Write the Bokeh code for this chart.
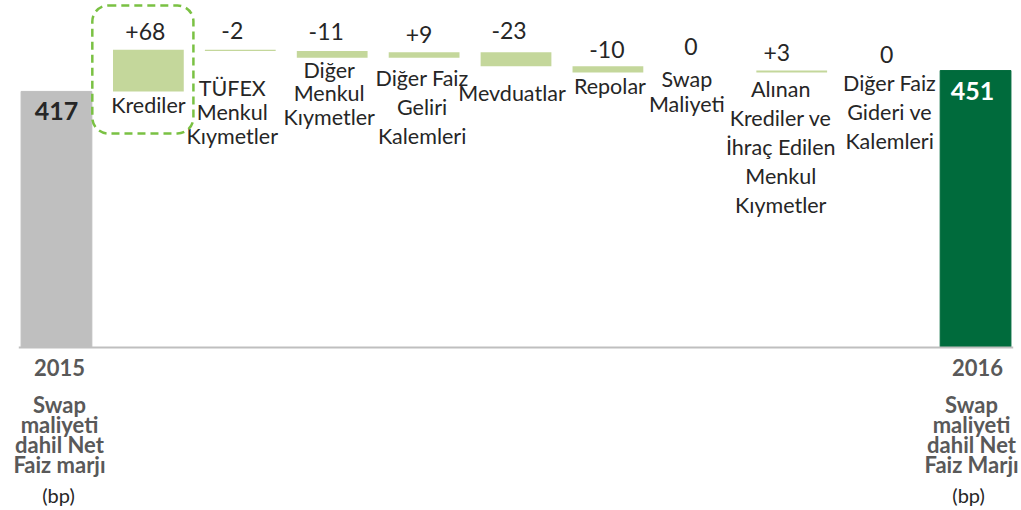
from bokeh.plotting import figure
from bokeh.models import ColumnDataSource, Range1d, BoxAnnotation
from bokeh.core.properties import value
from bokeh.embed import file_html
from bokeh.resources import INLINE

# ---------------- data ----------------
start_label = "2015"
end_label = "2016"
start_value = 417
end_value = 451
step_labels = [
    "Krediler",
    "TÜFEX\nMenkul\nKıymetler",
    "Diğer\nMenkul\nKıymetler",
    "Diğer Faiz\nGeliri\nKalemleri",
    "Mevduatlar",
    "Repolar",
    "Swap\nMaliyeti",
    "Alınan\nKrediler ve\nİhraç Edilen\nMenkul\nKıymetler",
    "Diğer Faiz\nGideri ve\nKalemleri",
]
step_changes = [68, -2, -11, 9, -23, -10, 0, 3, 0]
total_captions = ["Swap\nmaliyeti\ndahil Net\nFaiz marjı",
                  "Swap\nmaliyeti\ndahil Net\nFaiz Marjı"]
unit_label = "(bp)"

# ---------------- layout / style ----------------
FONT = value("Lato")
GRAY = "#BFBFBF"
LIGHT_GREEN = "#C4D79B"
DARK_GREEN = "#006B3C"
TEXT = "#262626"
CAPTION = "#595959"

# per-label nudges (pixels)
value_dx = [-3, -8, -6, -5, -7, -1, -9, -15, 3]
value_rise = [18, 19, 19, 18, 22, 16.5, 25.5, 18.5, 16]   # label centre above bar top
label_dx = [0, -8, -3, -2, -4, 2, -13, -11, 6]
label_first = [14, 37, 12, 20, 27, 14, 7, 17, 12]   # first line centre below bar bottom
label_spacing = [24, 24, 23.5, 29, 24, 24, 25, 28.8, 29]

n_steps = len(step_changes)
n_cols = n_steps + 2

levels = [start_value]
for c in step_changes:
    levels.append(levels[-1] + c)

p = figure(width=1021, height=510, output_backend="svg", toolbar_location=None,
           x_range=Range1d(-0.609, 10.5), y_range=Range1d(-265.5, 565.1),
           x_axis_type=None, y_axis_type=None,
           min_border_left=0, min_border_right=0, min_border_top=0, min_border_bottom=0)
p.outline_line_color = None
p.grid.visible = False
p.background_fill_color = "white"
p.border_fill_color = "white"

# total bars
tot_src = ColumnDataSource(dict(x=[0, n_cols - 1], top=[start_value, end_value],
                                color=[GRAY, DARK_GREEN],
                                text=[str(start_value), str(end_value)],
                                tcolor=[TEXT, "white"], dx=[0, -3]))
p.vbar(x="x", top="top", bottom=0, width=0.77, color="color", source=tot_src)
p.text(x="x", y="top", text="text", source=tot_src, text_color="tcolor",
       text_font=FONT, text_font_style="bold", text_font_size="25px",
       text_align="center", text_baseline="middle", x_offset="dx", y_offset=20)

# step bars
xs = list(range(1, n_steps + 1))
bottoms = [min(levels[i], levels[i + 1]) for i in range(n_steps)]
tops = [max(levels[i], levels[i + 1]) for i in range(n_steps)]
step_src = ColumnDataSource(dict(x=xs, bottom=bottoms, top=tops,
                                 text=[("%+d" % c) if c != 0 else "0" for c in step_changes],
                                 dx=value_dx, dy=[-r for r in value_rise]))
p.vbar(x="x", top="top", bottom="bottom", width=0.77, fill_color=LIGHT_GREEN,
       line_color=None, source=step_src)
p.text(x="x", y="top", text="text", source=step_src, text_color=TEXT,
       text_font=FONT, text_font_size="23px", text_align="center",
       text_baseline="middle", x_offset="dx", y_offset="dy")

# step category labels (line by line)
lx, ly, lt, ldx, ldy = [], [], [], [], []
for i, lab in enumerate(step_labels):
    for j, line in enumerate(lab.split("\n")):
        lx.append(xs[i]); ly.append(bottoms[i]); lt.append(line)
        ldx.append(label_dx[i]); ldy.append(label_first[i] + j * label_spacing[i])
p.text(x="x", y="y", text="t", source=ColumnDataSource(dict(x=lx, y=ly, t=lt, dx=ldx, dy=ldy)),
       text_color=TEXT, text_font=FONT, text_font_size="21.5px", text_align="center",
       text_baseline="middle", x_offset="dx", y_offset="dy")

# baseline
p.segment(x0=[-0.41], y0=[0], x1=[n_cols - 1 + 0.41], y1=[0], line_color=GRAY, line_width=2)

# captions below totals
cx, ct, cdx, cdy = [], [], [], []
tot_x = [0, n_cols - 1]
year_dx = [3, 2]
cap_dx = [3, -4]
unit_dx = [2, -7]
for k, (yr, cap) in enumerate(zip([start_label, end_label], total_captions)):
    cx.append(tot_x[k]); ct.append(yr); cdx.append(year_dx[k]); cdy.append(20)
    for j, line in enumerate(cap.split("\n")):
        cx.append(tot_x[k]); ct.append(line); cdx.append(cap_dx[k]); cdy.append(57 + 20 * j)
p.text(x="x", y=0, text="t", source=ColumnDataSource(dict(x=cx, t=ct, dx=cdx, dy=cdy)),
       text_color=CAPTION, text_font=FONT, text_font_style="bold", text_font_size="22px",
       text_align="center", text_baseline="middle", x_offset="dx", y_offset="dy")
p.text(x="x", y=0, text="t",
       source=ColumnDataSource(dict(x=tot_x, t=[unit_label, unit_label], dx=unit_dx)),
       text_color=TEXT, text_font=FONT, text_font_size="20px",
       text_align="center", text_baseline="middle", x_offset="dx", y_offset=148)

# highlight box around the first step
box = BoxAnnotation(left=1 - 0.61, right=1 + 0.49, top=557, bottom=348.5,
                    fill_alpha=0, line_color="#7AC143", line_alpha=1.0, line_width=2.5,
                    line_dash="8 5", border_radius=16)
p.add_layout(box)

open("out.html", "w").write(file_html(p, INLINE))
